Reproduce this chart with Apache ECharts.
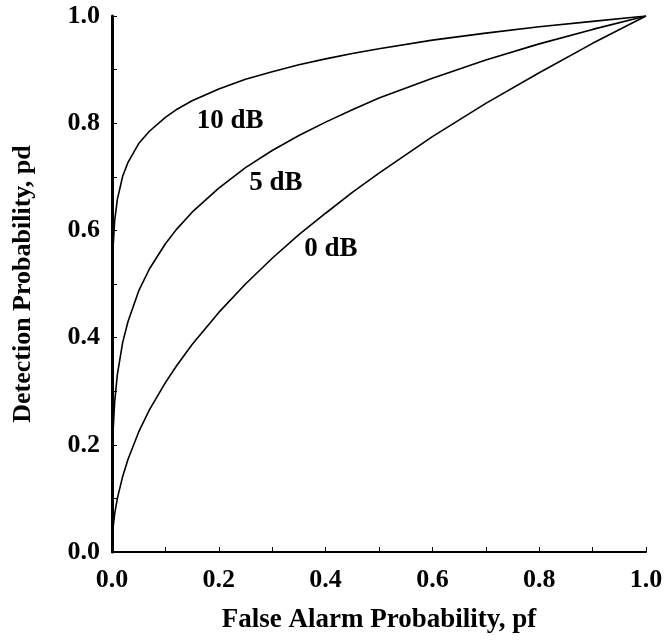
<!DOCTYPE html>
<html>
<head>
<meta charset="utf-8">
<script src="https://cdn.jsdelivr.net/npm/echarts@6/dist/echarts.min.js"></script>
<style>html,body{margin:0;padding:0;background:#fff;}#c{width:669px;height:644px;}</style>
</head>
<body>
<div id="c"></div>
<script>
// False alarm probability sample points (x)
const pf = [0, 0.000001, 0.00001, 0.0001, 0.0005, 0.001, 0.002, 0.005, 0.01, 0.02, 0.03, 0.05, 0.07, 0.1, 0.12, 0.15, 0.2, 0.25, 0.3, 0.35, 0.4, 0.45, 0.5, 0.6, 0.7, 0.8, 0.9, 1.0];
// Detection probability
const pd10dB = [0, 0.285, 0.351, 0.433, 0.501, 0.534, 0.568, 0.618, 0.658, 0.701, 0.727, 0.762, 0.785, 0.811, 0.825, 0.842, 0.864, 0.882, 0.896, 0.909, 0.920, 0.930, 0.939, 0.955, 0.968, 0.980, 0.990, 1.0];
const pd5dB  = [0, 0.036, 0.063, 0.109, 0.161, 0.190, 0.225, 0.280, 0.331, 0.391, 0.430, 0.487, 0.528, 0.575, 0.601, 0.634, 0.679, 0.717, 0.749, 0.777, 0.802, 0.825, 0.847, 0.884, 0.918, 0.948, 0.975, 1.0];
const pd0dB  = [0, 0.001, 0.003, 0.010, 0.022, 0.032, 0.045, 0.071, 0.100, 0.141, 0.173, 0.224, 0.265, 0.316, 0.346, 0.387, 0.447, 0.500, 0.548, 0.592, 0.632, 0.671, 0.707, 0.775, 0.837, 0.894, 0.949, 1.0];
const seriesNames = ['10 dB', '5 dB', '0 dB'];
// Curve label anchors (data coordinates)
const labelX = [0.221, 0.307, 0.410];
const labelY = [0.804, 0.688, 0.565];
const xTickLabels = ['0.0', '0.2', '0.4', '0.6', '0.8', '1.0'];
const yTickLabels = ['0.0', '0.2', '0.4', '0.6', '0.8', '1.0'];
const xTitle = 'False Alarm Probability, pf';
const yTitle = 'Detection Probability, pd';

const FONT = '"Liberation Serif", "Times New Roman", serif';
function pairs(xs, ys) { return xs.map((x, i) => [x, ys[i]]); }
function tickFmt(labels) {
  return function (v) {
    const idx = Math.round(v * 10);
    return idx % 2 === 0 ? labels[idx / 2] : '';
  };
}
const lineStyle = { color: '#000', width: 1.6 };
const curves = [pd10dB, pd5dB, pd0dB].map((ys, i) => ({
  type: 'line', name: seriesNames[i], data: pairs(pf, ys), showSymbol: false,
  symbol: 'none', lineStyle: lineStyle, silent: true, z: 3
}));

const chart = echarts.init(document.getElementById('c'), null, { renderer: 'canvas' });
chart.setOption({
  backgroundColor: '#fff',
  animation: false,
  grid: { left: 112, right: 23, top: 16, bottom: 92, containLabel: false },
  xAxis: {
    type: 'value', min: 0, max: 1, interval: 0.1,
    name: xTitle, nameLocation: 'middle', nameGap: 55,
    nameTextStyle: { fontFamily: FONT, fontSize: 27, fontWeight: 'bold', color: '#000' },
    axisLine: { show: true, lineStyle: { color: '#000', width: 2 } },
    axisTick: { show: true, inside: true, length: 5, lineStyle: { color: '#000', width: 1 } },
    axisLabel: { formatter: tickFmt(xTickLabels), fontFamily: FONT, fontSize: 26, fontWeight: 'bold', color: '#000', margin: 15 },
    splitLine: { show: false }
  },
  yAxis: {
    type: 'value', min: 0, max: 1, interval: 0.1,
    name: yTitle, nameLocation: 'middle', nameGap: 76, nameRotate: 90,
    nameTextStyle: { fontFamily: FONT, fontSize: 26, fontWeight: 'bold', color: '#000' },
    axisLine: { show: true, lineStyle: { color: '#000', width: 3 } },
    axisTick: { show: true, inside: true, length: 5, lineStyle: { color: '#000', width: 1 } },
    axisLabel: { formatter: tickFmt(yTickLabels), fontFamily: FONT, fontSize: 26, fontWeight: 'bold', color: '#000', margin: 12 },
    splitLine: { show: false }
  },
  series: curves.concat([{
    type: 'scatter', data: pairs(labelX, labelY).map((p, i) => ({ value: p, name: seriesNames[i] })),
    symbolSize: 0, silent: true, z: 4, itemStyle: { opacity: 1, color: '#000' },
    label: { show: true, position: 'inside', formatter: p => p.name, fontFamily: FONT, fontSize: 27, fontWeight: 'bold', color: '#000', opacity: 1 }
  }])
});
</script>
</body>
</html>
